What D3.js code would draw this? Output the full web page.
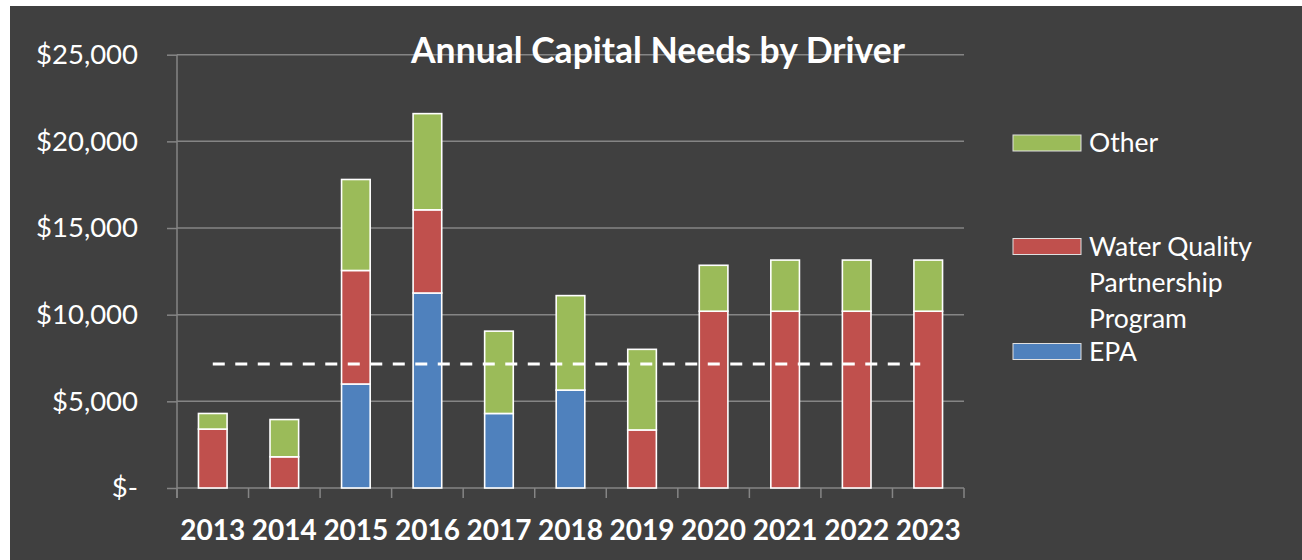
<!DOCTYPE html>
<html>
<head>
<meta charset="utf-8">
<script src="https://cdn.jsdelivr.net/npm/d3@7"></script>
<style>
  html, body { margin: 0; padding: 0; background: #fff; }
  svg { display: block; }
</style>
</head>
<body>
<div id="chart"></div>
<script>
// Annual capital needs by driver, stacked columns

const years = ["2013", "2014", "2015", "2016", "2017", "2018", "2019", "2020", "2021", "2022", "2023"];
const epa = [0, 0, 6000, 11250, 4300, 5650, 0, 0, 0, 0, 0];
const waterQuality = [3400, 1800, 6550, 4800, 0, 0, 3350, 10200, 10200, 10200, 10200];
const other = [900, 2150, 5250, 5550, 4750, 5450, 4650, 2650, 2950, 2950, 2950];
const averageLevel = 7150;
const yTicks = [0, 5000, 10000, 15000, 20000, 25000];

const seriesNames = ["EPA", "Water Quality Partnership Program", "Other"];
const seriesColors = ["#4f81bd", "#c0504d", "#9bbb59"];

const width = 1302, height = 560;
const plot = { left: 177, right: 964, top: 54.7, bottom: 488 };
const font = "Lato, 'Open Sans', sans-serif";

const svg = d3.select("#chart").append("svg")
  .attr("width", width)
  .attr("height", height);

// dark panel with white strip on top and left
svg.append("rect")
  .attr("x", 10).attr("y", 6)
  .attr("width", width - 10).attr("height", height - 6)
  .attr("fill", "#404040");

const x = d3.scaleBand()
  .domain(years)
  .range([plot.left, plot.right])
  .padding(0);

const y = d3.scaleLinear()
  .domain([0, 25000])
  .range([plot.bottom, plot.top]);

// gridlines
svg.append("g")
  .selectAll("line")
  .data(yTicks.filter(d => d > 0))
  .join("line")
    .attr("x1", plot.left).attr("x2", plot.right)
    .attr("y1", d => y(d)).attr("y2", d => y(d))
    .attr("stroke", "#858585")
    .attr("stroke-width", 1.5);

// y axis
const yAxis = svg.append("g")
  .attr("transform", `translate(${plot.left},0)`)
  .call(d3.axisLeft(y).tickValues(yTicks).tickSize(10).tickFormat(d => d === 0 ? "$-" : "$" + d3.format(",")(d)));
yAxis.select(".domain").attr("stroke", "#858585").attr("stroke-width", 1.5)
  .attr("d", `M0,${plot.top}V${plot.bottom + 10}`);
yAxis.selectAll(".tick line").attr("stroke", "#858585").attr("stroke-width", 1.5);
yAxis.selectAll(".tick text")
  .attr("x", -39)
  .attr("dy", "0.32em")
  .attr("fill", "#ffffff")
  .style("font-family", font)
  .style("font-size", "27.5px");

// x axis
const xAxis = svg.append("g")
  .attr("transform", `translate(0,${plot.bottom})`);
xAxis.append("line")
  .attr("x1", plot.left).attr("x2", plot.right)
  .attr("stroke", "#858585").attr("stroke-width", 1.5);
xAxis.selectAll(".xtick")
  .data(years.concat(["end"]))
  .join("line")
    .attr("class", "xtick")
    .attr("x1", d => d === "end" ? plot.right : x(d))
    .attr("x2", d => d === "end" ? plot.right : x(d))
    .attr("y1", 0).attr("y2", 10)
    .attr("stroke", "#858585").attr("stroke-width", 1.5);
xAxis.selectAll("text")
  .data(years)
  .join("text")
    .attr("x", d => x(d) + x.bandwidth() / 2)
    .attr("y", 52)
    .attr("text-anchor", "middle")
    .attr("fill", "#ffffff")
    .style("font-family", font)
    .style("font-weight", "bold")
    .style("font-size", "28px")
    .text(d => d);

// stacked bars
const rows = years.map((yr, i) => ({ year: yr, EPA: epa[i], "Water Quality Partnership Program": waterQuality[i], Other: other[i] }));
const stack = d3.stack().keys(seriesNames)(rows);
const barW = x.bandwidth() * 0.4;

svg.append("g")
  .selectAll("g")
  .data(stack)
  .join("g")
    .attr("fill", (d, i) => seriesColors[i])
  .selectAll("rect")
  .data(d => d.filter(s => s[1] - s[0] > 0))
  .join("rect")
    .attr("x", d => x(d.data.year) + (x.bandwidth() - barW) / 2)
    .attr("width", barW)
    .attr("y", d => y(d[1]))
    .attr("height", d => y(d[0]) - y(d[1]))
    .attr("stroke", "#ffffff")
    .attr("stroke-width", 1.6);

// dashed average line
svg.append("line")
  .attr("x1", x(years[0]) + x.bandwidth() / 2)
  .attr("x2", x(years[years.length - 1]) + x.bandwidth() / 2 - 8)
  .attr("y1", y(averageLevel)).attr("y2", y(averageLevel))
  .attr("stroke", "#ffffff")
  .attr("stroke-width", 3)
  .attr("stroke-dasharray", "12,10.5");

// title
svg.append("text")
  .attr("x", 658)
  .attr("y", 63)
  .attr("text-anchor", "middle")
  .attr("fill", "#ffffff")
  .style("font-family", font)
  .style("font-weight", "bold")
  .style("font-size", "35.5px")
  .text("Annual Capital Needs by Driver");

// legend
const legendItems = [
  { name: "Other", color: seriesColors[2], y: 135, lines: ["Other"] },
  { name: "Water Quality Partnership Program", color: seriesColors[1], y: 238.5, lines: ["Water Quality", "Partnership", "Program"] },
  { name: "EPA", color: seriesColors[0], y: 343.5, lines: ["EPA"] }
];

const legend = svg.append("g");
const item = legend.selectAll("g")
  .data(legendItems)
  .join("g")
    .attr("transform", d => `translate(1013,${d.y})`);

item.append("rect")
  .attr("width", 68).attr("height", 16)
  .attr("fill", d => d.color)
  .attr("stroke", "#e0e0e0")
  .attr("stroke-width", 1);

item.append("text")
  .attr("x", 76)
  .attr("y", 17)
  .attr("fill", "#ffffff")
  .style("font-family", font)
  .style("font-size", "26.5px")
  .selectAll("tspan")
  .data(d => d.lines)
  .join("tspan")
    .attr("x", 76)
    .attr("dy", (d, i) => i === 0 ? 0 : 36)
    .text(d => d);
</script>
</body>
</html>
